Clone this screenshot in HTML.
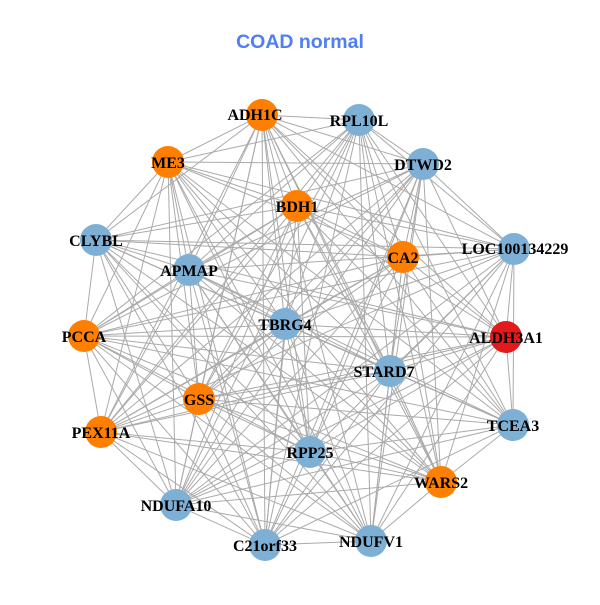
<!DOCTYPE html>
<html><head><meta charset="utf-8"><style>
html,body{margin:0;padding:0;background:#fff;}
svg text{font-family:"Liberation Serif",serif;font-weight:bold;font-size:16px;fill:#000;}
</style></head><body>
<svg id="g" width="600" height="600" xmlns="http://www.w3.org/2000/svg">
<rect width="600" height="600" fill="#fff"/>
<g id="edges" stroke="#aaaaaa" stroke-width="1"></g>
<g id="nodes">
<circle cx="262" cy="115" r="16" fill="#ff7f00"/>
<circle cx="359" cy="120" r="16" fill="#7eb0d5"/>
<circle cx="168" cy="162" r="16" fill="#ff7f00"/>
<circle cx="423" cy="164" r="16" fill="#7eb0d5"/>
<circle cx="297" cy="206" r="16" fill="#ff7f00"/>
<circle cx="96" cy="240" r="16" fill="#7eb0d5"/>
<circle cx="403" cy="257" r="16" fill="#ff7f00"/>
<circle cx="514" cy="249" r="16" fill="#7eb0d5"/>
<circle cx="189" cy="270" r="16" fill="#7eb0d5"/>
<circle cx="285" cy="324" r="16" fill="#7eb0d5"/>
<circle cx="506" cy="337" r="16" fill="#e31a1c"/>
<circle cx="84" cy="336" r="16" fill="#ff7f00"/>
<circle cx="390" cy="371" r="16" fill="#7eb0d5"/>
<circle cx="199" cy="399" r="16" fill="#ff7f00"/>
<circle cx="101" cy="432" r="16" fill="#ff7f00"/>
<circle cx="513" cy="425" r="16" fill="#7eb0d5"/>
<circle cx="310" cy="452" r="16" fill="#7eb0d5"/>
<circle cx="441" cy="482" r="16" fill="#ff7f00"/>
<circle cx="176" cy="505" r="16" fill="#7eb0d5"/>
<circle cx="265" cy="545" r="16" fill="#7eb0d5"/>
<circle cx="371" cy="541" r="16" fill="#7eb0d5"/>
</g>
<g text-anchor="middle">
<text x="255" y="120">ADH1C</text>
<text x="359" y="126">RPL10L</text>
<text x="168" y="168">ME3</text>
<text x="423" y="170">DTWD2</text>
<text x="297" y="212">BDH1</text>
<text x="96" y="246">CLYBL</text>
<text x="403" y="263">CA2</text>
<text x="515" y="254">LOC100134229</text>
<text x="189" y="276">APMAP</text>
<text x="285" y="330">TBRG4</text>
<text x="506" y="343">ALDH3A1</text>
<text x="84" y="342">PCCA</text>
<text x="384" y="377">STARD7</text>
<text x="199" y="405">GSS</text>
<text x="101" y="438">PEX11A</text>
<text x="513" y="431">TCEA3</text>
<text x="310" y="458">RPP25</text>
<text x="441" y="488">WARS2</text>
<text x="176" y="511">NDUFA10</text>
<text x="265" y="551">C21orf33</text>
<text x="371" y="547">NDUFV1</text>
</g>
<text x="300" y="48" text-anchor="middle" style="font-family:'Liberation Sans',sans-serif;font-size:19.5px;fill:#4f7ff0;">COAD normal</text>
</svg>
<script>
var p=[[262,115],[359,120],[168,162],[423,164],[297,206],[96,240],[403,257],[514,249],[189,270],[285,324],[506,337],[84,336],[390,371],[199,399],[101,432],[513,425],[310,452],[441,482],[176,505],[265,545],[371,541]];
var g=document.getElementById('edges'),s='';
for(var i=0;i<p.length;i++)for(var j=i+1;j<p.length;j++){
 if((i*7+j*3)%11==0)continue;
 s+='<line x1="'+p[i][0]+'" y1="'+p[i][1]+'" x2="'+p[j][0]+'" y2="'+p[j][1]+'"/>';}
g.innerHTML=s;
</script>
</body></html>
